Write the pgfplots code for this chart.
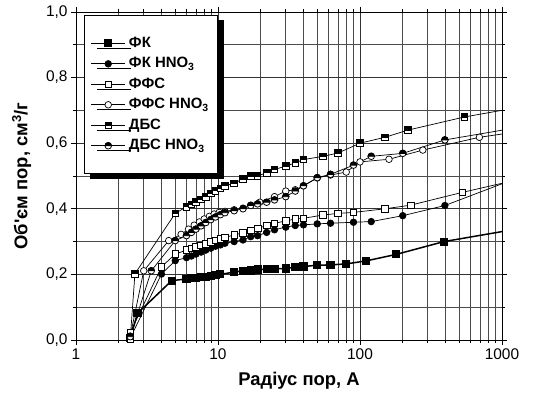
\documentclass[border=0pt]{standalone}
\usepackage{fontspec}
\setmainfont{Liberation Sans}
\usepackage{pgfplots}
\pgfplotsset{compat=1.18}
\usetikzlibrary{shadows,plotmarks}
\pgfdeclareplotmark{hsq}{%
  \pgfpathrectangle{\pgfqpoint{-\pgfplotmarksize}{-\pgfplotmarksize}}{\pgfqpoint{2\pgfplotmarksize}{2\pgfplotmarksize}}%
  \pgfsetfillcolor{white}\pgfusepathqfillstroke
  \pgfpathrectangle{\pgfqpoint{-\pgfplotmarksize}{0pt}}{\pgfqpoint{2\pgfplotmarksize}{\pgfplotmarksize}}%
  \pgfsetfillcolor{black}\pgfusepathqfillstroke
}
\pgfdeclareplotmark{hci}{%
  \pgfpathcircle{\pgfpointorigin}{\pgfplotmarksize}%
  \pgfsetfillcolor{white}\pgfusepathqfillstroke
  \pgfpathmoveto{\pgfqpoint{\pgfplotmarksize}{0pt}}%
  \pgfpatharc{0}{180}{\pgfplotmarksize}%
  \pgfpathclose
  \pgfsetfillcolor{black}\pgfusepathqfillstroke
}
\begin{document}
\begin{tikzpicture}
\begin{axis}[
  name=ax,
  scale only axis, width=426bp, height=328bp,
  xmode=log, xmin=1, xmax=1000, ymin=0, ymax=1,
  xtick={1,10,100,1000}, xticklabels={1,10,100,1000},
  minor xtick={2,3,4,5,6,7,8,9,20,30,40,50,60,70,80,90,200,300,400,500,600,700,800,900},
  ytick={0,0.2,0.4,0.6,0.8,1.0},
  minor ytick={0.1,0.3,0.5,0.7,0.9},
  yticklabel style={/pgf/number format/.cd, use comma, fixed, fixed zerofill, precision=1},
  /pgf/number format/assume math mode=true,
  tick label style={font=\fontsize{15.5}{16}\selectfont},
  xmajorgrids, xminorgrids, ymajorgrids, yminorgrids,
  grid style={black!70, line width=0.7bp},
  minor grid style={black!70, line width=0.7bp},
  major grid style={black!80, line width=0.7bp},
  tick align=outside, major tick length=5bp, minor tick length=3bp,
  tick style={black, line width=0.8bp},
  axis line style={line width=0.9bp},
  xlabel={Радіус пор, А},
  ylabel={Об\textquotesingle єм пор, см\textsuperscript{3}/г},
  label style={font=\bfseries\fontsize{18.5}{20}\selectfont},
  xlabel style={yshift=-6bp, xshift=10bp},
  ylabel style={yshift=8bp},
  clip=true,
  legend cell align=left,
  legend style={at={(0.019,0.991)}, anchor=north west, draw=black, fill=white,
    line width=0.8bp,
    drop shadow={shadow xshift=6bp, shadow yshift=-5bp, fill=black, opacity=1},
    font=\bfseries\fontsize{15}{16}\selectfont, inner xsep=6bp, inner ysep=19bp,
    nodes={text height=11bp, text depth=3bp, inner xsep=3bp},
    row sep=2.5bp},
  legend image code/.code={\draw[mark repeat=2,mark phase=2,#1] plot coordinates {(0bp,0bp)(17bp,0bp)(34bp,0bp)};},
  every axis plot/.append style={black, line width=0.7bp, mark size=3.3bp, mark options={solid, line width=0.8bp}},
]
\addplot[line width=1.5bp, mark=square*, mark options={fill=black}] coordinates {
(2.41,0.005)(2.71,0.081)(4.72,0.181)(6.0,0.186)(6.5,0.188)(7.0,0.190)(7.6,0.191)(8.2,0.193)(8.9,0.195)(9.6,0.197)(10.4,0.200)(13,0.207)(15,0.211)(17,0.212)(19,0.215)(22,0.216)(25,0.217)(30,0.218)(35,0.222)(40,0.224)(50,0.228)(62,0.229)(80,0.232)(110,0.241)(180,0.261)(390,0.300)(1300,0.339)};
\addlegendentry{ФК}
\addplot[mark=*, mark options={fill=black}] coordinates {
(2.41,0.006)(4.0,0.201)(5.0,0.242)(6.0,0.251)(6.5,0.256)(7.0,0.262)(7.6,0.268)(8.2,0.274)(8.9,0.280)(9.6,0.286)(10.4,0.290)(11.2,0.295)(13,0.300)(15,0.305)(17,0.315)(19,0.318)(22,0.328)(25,0.336)(30,0.344)(35,0.349)(40,0.351)(50,0.354)(62,0.356)(90,0.359)(120,0.361)(200,0.379)(396,0.410)(1300,0.495)};
\addlegendentry{ФК HNO\textsubscript{3}}
\addplot[mark=square*, mark options={fill=white}] coordinates {
(2.41,0.022)(4.0,0.223)(5.0,0.262)(6.0,0.274)(6.5,0.279)(7.0,0.284)(7.6,0.289)(8.2,0.294)(8.9,0.299)(9.6,0.304)(10.4,0.308)(11.2,0.313)(13,0.320)(15,0.327)(17,0.334)(19,0.340)(22,0.349)(25,0.356)(30,0.363)(35,0.369)(40,0.371)(55,0.381)(70,0.386)(90,0.389)(150,0.400)(227,0.411)(525,0.450)(1300,0.489)};
\addlegendentry{ФФС}
\addplot[mark=*, mark options={fill=white}] coordinates {
(2.41,0.012)(3.0,0.211)(4.5,0.303)(5.5,0.322)(6.2,0.338)(6.8,0.350)(7.4,0.360)(8.0,0.369)(8.7,0.377)(9.4,0.384)(10.2,0.389)(11.2,0.392)(13,0.397)(15,0.402)(17,0.411)(19.7,0.420)(25,0.437)(30,0.454)(35,0.458)(40,0.470)(50,0.494)(62,0.503)(80,0.512)(100,0.543)(160,0.551)(277,0.579)(693,0.618)(1300,0.635)};
\addlegendentry{ФФС HNO\textsubscript{3}}
\addplot[mark=hsq] coordinates {
(2.41,0.003)(2.6,0.202)(5.0,0.386)(6.0,0.406)(6.5,0.414)(7.0,0.421)(7.6,0.429)(8.2,0.437)(8.9,0.447)(9.6,0.455)(10.4,0.462)(11.2,0.470)(13,0.478)(15,0.491)(17,0.500)(19,0.500)(22,0.510)(25,0.520)(30,0.530)(35,0.540)(40,0.550)(55,0.560)(70,0.570)(100,0.600)(150,0.618)(218,0.640)(545,0.680)(1300,0.709)};
\addlegendentry{ДБС}
\addplot[mark=hci] coordinates {
(2.41,0.010)(3.39,0.211)(5.0,0.303)(6.0,0.318)(6.5,0.328)(7.0,0.338)(7.6,0.348)(8.2,0.358)(8.9,0.367)(9.6,0.375)(10.4,0.382)(11.2,0.388)(13,0.394)(15,0.400)(17,0.410)(19,0.415)(22,0.420)(25,0.427)(30,0.437)(35,0.454)(40,0.470)(50,0.495)(62,0.505)(90,0.533)(120,0.560)(200,0.569)(396,0.610)(1300,0.648)};
\addlegendentry{ДБС HNO\textsubscript{3}}
\end{axis}
\pgfresetboundingbox
\path[use as bounding box] ([xshift=-76bp,yshift=-60bp]ax.south west) rectangle ([xshift=37bp,yshift=12bp]ax.north east);
\end{tikzpicture}
\end{document}
